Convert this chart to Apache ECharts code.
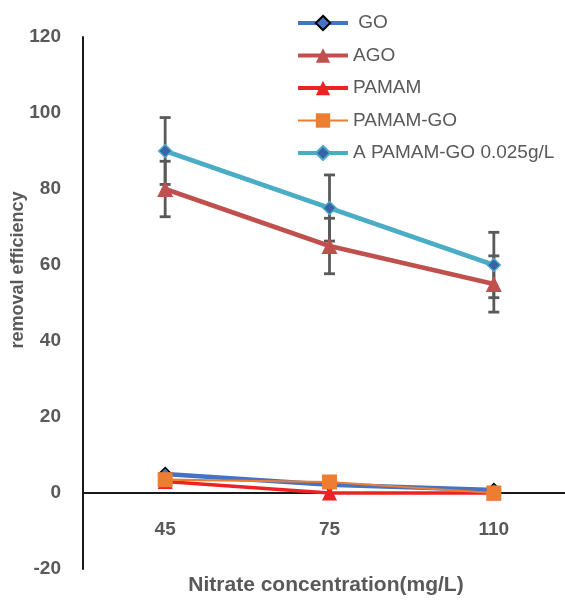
<!DOCTYPE html>
<html>
<head>
<meta charset="utf-8">
<script src="https://cdn.jsdelivr.net/npm/echarts@6/dist/echarts.min.js"></script>
<style>
html,body{margin:0;padding:0;background:#fff;}
#chart{width:565px;height:600px;}
</style>
</head>
<body>
<div id="chart"></div>
<script>
const categories = ['45', '75', '110'];
const goData = [5, 2.2, 0.8];
const agoData = [80, 65, 55];
const pamamData = [3, 0, 0];
const pamamGoData = [3.5, 2.9, 0];
const apamamData = [90, 75, 60];
const agoErr = [7.3, 7.3, 7.4];
const apamamErr = [8.8, 8.7, 8.6];
const yTicks = [-20, 0, 20, 40, 60, 80, 100, 120];

const FONT = '"Liberation Sans", Arial, sans-serif';
const GRAY = '#595959';

function errSeries(vals, errs) {
  return {
    type: 'custom',
    z: 1,
    silent: true,
    data: categories.map((c, i) => [i, vals[i], errs[i]]),
    encode: { x: 0, y: 1 },
    renderItem: function (params, api) {
      const i = api.value(0), v = api.value(1), e = api.value(2);
      const top = api.coord([i, v + e]);
      const bot = api.coord([i, v - e]);
      const hw = 5.5;
      const st = { stroke: GRAY, lineWidth: 2.8 };
      return {
        type: 'group',
        children: [
          { type: 'line', shape: { x1: top[0], y1: top[1], x2: bot[0], y2: bot[1] }, style: st },
          { type: 'line', shape: { x1: top[0] - hw, y1: top[1], x2: top[0] + hw, y2: top[1] }, style: st },
          { type: 'line', shape: { x1: bot[0] - hw, y1: bot[1], x2: bot[0] + hw, y2: bot[1] }, style: st }
        ]
      };
    }
  };
}

const chart = echarts.init(document.getElementById('chart'), null, { renderer: 'canvas' });
chart.setOption({
  animation: false,
  backgroundColor: '#fff',
  textStyle: { fontFamily: FONT },
  grid: { left: 83, top: 37, right: -11, bottom: 31, containLabel: false, outerBoundsMode: 'none' },
  legend: {
    orient: 'vertical',
    left: 291,
    top: 8,
    itemWidth: 50,
    itemHeight: 18,
    itemGap: 12.5,
    textStyle: { color: GRAY, fontSize: 19, fontFamily: FONT, lineHeight: 20 },
    data: [
      { name: ' GO', lineStyle: { width: 4 } },
      { name: 'AGO', lineStyle: { width: 4 } },
      { name: 'PAMAM', lineStyle: { width: 4 } },
      { name: 'PAMAM-GO', lineStyle: { width: 2 } },
      { name: 'A PAMAM-GO 0.025g/L', lineStyle: { width: 4 } }
    ]
  },
  xAxis: {
    type: 'category',
    data: categories,
    boundaryGap: true,
    axisLine: { onZero: true, lineStyle: { color: '#1a1a1a', width: 1.8 } },
    axisTick: { show: false },
    axisLabel: { color: GRAY, fontWeight: 'bold', fontSize: 19, fontFamily: FONT, margin: -49 },
    splitLine: { show: false }
  },
  yAxis: {
    type: 'value',
    min: yTicks[0],
    max: yTicks[yTicks.length - 1],
    interval: 20,
    axisLine: { show: true, lineStyle: { color: '#1a1a1a', width: 2 } },
    axisTick: { show: false },
    axisLabel: { color: GRAY, fontWeight: 'bold', fontSize: 19, fontFamily: FONT, margin: 22 },
    splitLine: { show: false }
  },
  graphic: [
    {
      type: 'text',
      x: 18, y: 270,
      rotation: Math.PI / 2,
      style: {
        text: 'removal efficiency',
        fill: GRAY, font: 'bold 18px ' + FONT,
        textAlign: 'center', textVerticalAlign: 'middle'
      }
    },
    {
      type: 'text',
      x: 326, y: 585,
      style: {
        text: 'Nitrate concentration(mg/L)',
        fill: GRAY, font: 'bold 21px ' + FONT,
        textAlign: 'center', textVerticalAlign: 'middle'
      }
    }
  ],
  series: [
    errSeries(agoData, agoErr),
    errSeries(apamamData, apamamErr),
    {
      name: ' GO', type: 'line', data: goData, z: 3,
      symbol: 'diamond', symbolSize: 13,
      lineStyle: { color: '#4472C4', width: 4.5 },
      itemStyle: { color: '#4472C4', borderColor: '#000', borderWidth: 1.5 }
    },
    {
      name: 'AGO', type: 'line', data: agoData, z: 3,
      symbol: 'triangle', symbolSize: 16,
      lineStyle: { color: '#C0504D', width: 4.5 },
      itemStyle: { color: '#C0504D' }
    },
    {
      name: 'PAMAM', type: 'line', data: pamamData, z: 3,
      symbol: 'triangle', symbolSize: 15,
      lineStyle: { color: '#EE2222', width: 3.5 },
      itemStyle: { color: '#EE2222' }
    },
    {
      name: 'PAMAM-GO', type: 'line', data: pamamGoData, z: 3,
      symbol: 'rect', symbolSize: 15,
      lineStyle: { color: '#ED7D31', width: 2.2 },
      itemStyle: { color: '#ED7D31' }
    },
    {
      name: 'A PAMAM-GO 0.025g/L', type: 'line', data: apamamData, z: 3,
      symbol: 'diamond', symbolSize: 13,
      lineStyle: { color: '#4BACC6', width: 4.5 },
      itemStyle: { color: '#3A62A7', borderColor: '#4BACC6', borderWidth: 1.5 }
    }
  ]
});
</script>
</body>
</html>
